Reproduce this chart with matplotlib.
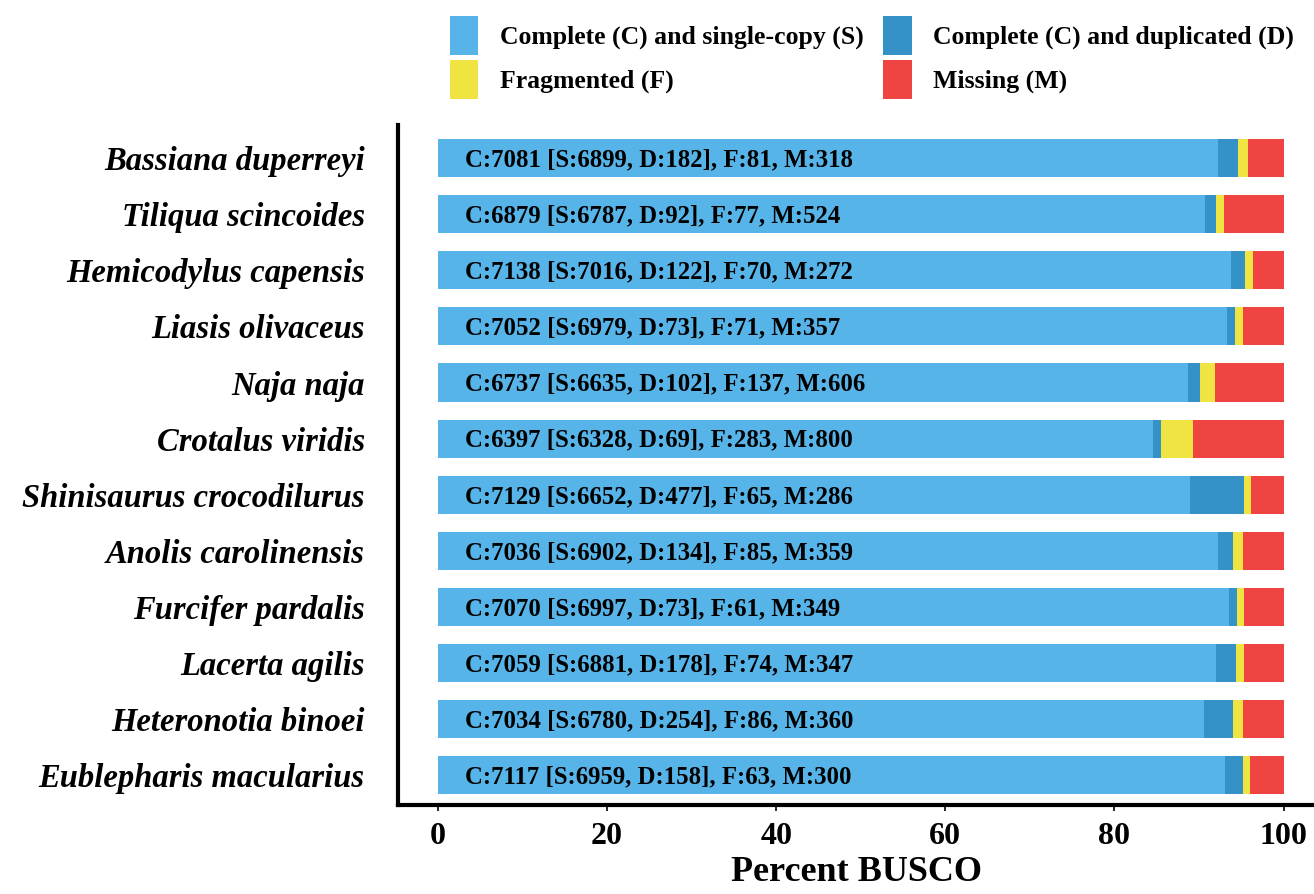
import matplotlib.pyplot as plt
from matplotlib.patches import Patch
import numpy as np

plt.rcParams['font.family'] = ['Liberation Serif', 'DejaVu Serif']
plt.rcParams['font.weight'] = 'bold'

species = ["Bassiana duperreyi", "Tiliqua scincoides", "Hemicodylus capensis",
           "Liasis olivaceus", "Naja naja", "Crotalus viridis",
           "Shinisaurus crocodilurus", "Anolis carolinensis", "Furcifer pardalis",
           "Lacerta agilis", "Heteronotia binoei", "Eublepharis macularius"]
single = [6899, 6787, 7016, 6979, 6635, 6328, 6652, 6902, 6997, 6881, 6780, 6959]
dup = [182, 92, 122, 73, 102, 69, 477, 134, 73, 178, 254, 158]
frag = [81, 77, 70, 71, 137, 283, 65, 85, 61, 74, 86, 63]
missing = [318, 524, 272, 357, 606, 800, 286, 359, 349, 347, 360, 300]

colors = ["#56B4E9", "#3492C7", "#F0E442", "#F04442"]
labels = ["Complete (C) and single-copy (S)", "Complete (C) and duplicated (D)",
          "Fragmented (F)", "Missing (M)"]

S = np.array(single, float)
D = np.array(dup, float)
F = np.array(frag, float)
M = np.array(missing, float)
total = S + D + F + M
parts = [S / total * 100, D / total * 100, F / total * 100, M / total * 100]

fig = plt.figure(figsize=(13.14, 8.94), dpi=100)
ax = fig.add_axes([0.303, 0.0996, 0.697, 0.7604])

y = np.arange(len(species))
left = np.zeros(len(species))
for vals, c in zip(parts, colors):
    ax.barh(y, vals, left=left, height=0.68, color=c, edgecolor='none')
    left += vals

for i in range(len(species)):
    txt = f"C:{single[i] + dup[i]} [S:{single[i]}, D:{dup[i]}], F:{frag[i]}, M:{missing[i]}"
    ax.text(3.2, y[i] + 0.03, txt, va='center', ha='left', fontsize=17.8, fontweight='bold')

ax.set_yticks(y)
ax.set_yticklabels(species, fontsize=23.5, fontstyle='italic', fontweight='bold')
ax.tick_params(axis='y', length=0, pad=24)
ax.set_ylim(len(species) - 0.465, -0.59)
ax.set_xlim(-4.7, 103.6)
ax.set_xticks([0, 20, 40, 60, 80, 100])
ax.tick_params(axis='x', labelsize=23, length=4, width=1.2, pad=8)
ax.set_xlabel("Percent BUSCO", fontsize=26, fontweight='bold', labelpad=4)

for s in ['top', 'right']:
    ax.spines[s].set_visible(False)
for s in ['left', 'bottom']:
    ax.spines[s].set_linewidth(3)

# legend filled column-wise, so order handles to read row-wise like the original
order = [0, 2, 1, 3]
handles = [Patch(facecolor=colors[k], edgecolor='none') for k in order]
fig.legend(handles, [labels[k] for k in order], ncol=2, loc='upper left',
           bbox_to_anchor=(0.325, 1.008), frameon=False, fontsize=18.5,
           handlelength=1.1, handleheight=1.95, columnspacing=0.75,
           handletextpad=0.85, labelspacing=0.2)

plt.savefig("out.png", dpi=100)
